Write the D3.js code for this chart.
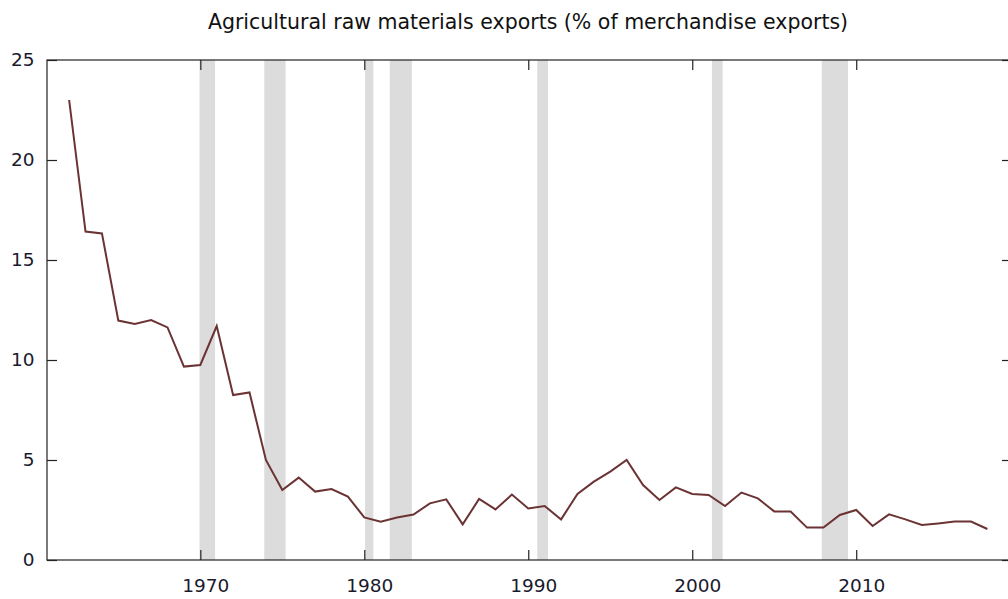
<!doctype html>
<html>
<head>
<meta charset="utf-8">
<script src="https://cdn.jsdelivr.net/npm/d3@7"></script>
<style>
  body { margin: 0; background: #fff; }
  svg text { font-family: "DejaVu Sans", Verdana, sans-serif; }
</style>
</head>
<body>
<script>
// data
var years = [1962, 1963, 1964, 1965, 1966, 1967, 1968, 1969, 1970, 1971,
  1972, 1973, 1974, 1975, 1976, 1977, 1978, 1979, 1980, 1981,
  1982, 1983, 1984, 1985, 1986, 1987, 1988, 1989, 1990, 1991,
  1992, 1993, 1994, 1995, 1996, 1997, 1998, 1999, 2000, 2001,
  2002, 2003, 2004, 2005, 2006, 2007, 2008, 2009, 2010, 2011,
  2012, 2013, 2014, 2015, 2016, 2017, 2018];
var values = [23.0, 16.42, 16.33, 11.97, 11.8, 12.0, 11.63, 9.67, 9.75, 11.7,
  8.25, 8.38, 5.0, 3.5, 4.12, 3.42, 3.55, 3.17, 2.13, 1.92,
  2.12, 2.27, 2.83, 3.03, 1.78, 3.05, 2.53, 3.27, 2.58, 2.7,
  2.03, 3.3, 3.92, 4.42, 5.0, 3.75, 3.0, 3.63, 3.3, 3.25,
  2.7, 3.37, 3.08, 2.43, 2.42, 1.62, 1.62, 2.25, 2.5, 1.7,
  2.28, 2.03, 1.75, 1.83, 1.92, 1.92, 1.55];
// shaded periods (start, end as decimal years)
var bandStart = [1969.95, 1973.9, 1980.05, 1981.55, 1990.55, 2001.2, 2007.9];
var bandEnd   = [1970.9, 1975.2, 1980.55, 1982.9, 1991.2, 2001.85, 2009.5];
var xTicks = [1970, 1980, 1990, 2000, 2010];
var yTicks = [0, 5, 10, 15, 20, 25];
var title = "Agricultural raw materials exports (% of merchandise exports)";

var W = 1008, H = 599;
var pLeft = 47, pTop = 60, pRight = 1012, pBottom = 560;

var svg = d3.select("body").append("svg")
  .attr("width", W).attr("height", H);

var x = d3.scaleLinear().domain([1960.65, 2019.5]).range([pLeft, pRight]);
var y = d3.scaleLinear().domain([0, 25]).range([pBottom, pTop]);

// bands
svg.append("g").selectAll("rect")
  .data(bandStart)
  .join("rect")
    .attr("x", (d) => x(d))
    .attr("y", pTop)
    .attr("width", (d, i) => x(bandEnd[i]) - x(d))
    .attr("height", pBottom - pTop)
    .attr("fill", "#dcdcdc");

// frame
svg.append("rect")
  .attr("x", pLeft).attr("y", pTop)
  .attr("width", pRight - pLeft).attr("height", pBottom - pTop)
  .attr("fill", "none").attr("stroke", "#222").attr("stroke-width", 1.2);

// axes, ticks pointing inward
var tk = 10;
svg.append("g")
  .attr("transform", "translate(0," + pBottom + ")")
  .call(d3.axisBottom(x).tickValues(xTicks).tickFormat(d3.format("d")).tickSizeInner(-tk).tickSizeOuter(0).tickPadding(18.5))
  .call(g => g.select(".domain").remove())
  .call(g => g.selectAll(".tick text").attr("dx", 5));
svg.append("g")
  .attr("transform", "translate(0," + pTop + ")")
  .call(d3.axisTop(x).tickValues(xTicks).tickFormat("").tickSizeInner(-tk).tickSizeOuter(0))
  .call(g => g.select(".domain").remove());
svg.append("g")
  .attr("transform", "translate(" + pLeft + ",0)")
  .call(d3.axisLeft(y).tickValues(yTicks).tickSizeInner(-tk).tickSizeOuter(0).tickPadding(12.5))
  .call(g => g.select(".domain").remove());
svg.append("g")
  .attr("transform", "translate(" + pRight + ",0)")
  .call(d3.axisRight(y).tickValues(yTicks).tickFormat("").tickSizeInner(-tk).tickSizeOuter(0))
  .call(g => g.select(".domain").remove());

svg.selectAll(".tick line").attr("stroke", "#222").attr("stroke-width", 1.2);
svg.selectAll(".tick text").attr("fill", "#1a1a2e").style("font-size", "18.5px");

// line
var line = d3.line()
  .x((d, i) => x(years[i]))
  .y((d) => y(d));
svg.append("path")
  .datum(values)
  .attr("d", line)
  .attr("fill", "none")
  .attr("stroke", "#6b3333")
  .attr("stroke-width", 2);

svg.append("text")
  .attr("x", 528).attr("y", 29)
  .attr("text-anchor", "middle")
  .style("font-size", "20.5px")
  .attr("fill", "#111")
  .text(title);
</script>
</body>
</html>
